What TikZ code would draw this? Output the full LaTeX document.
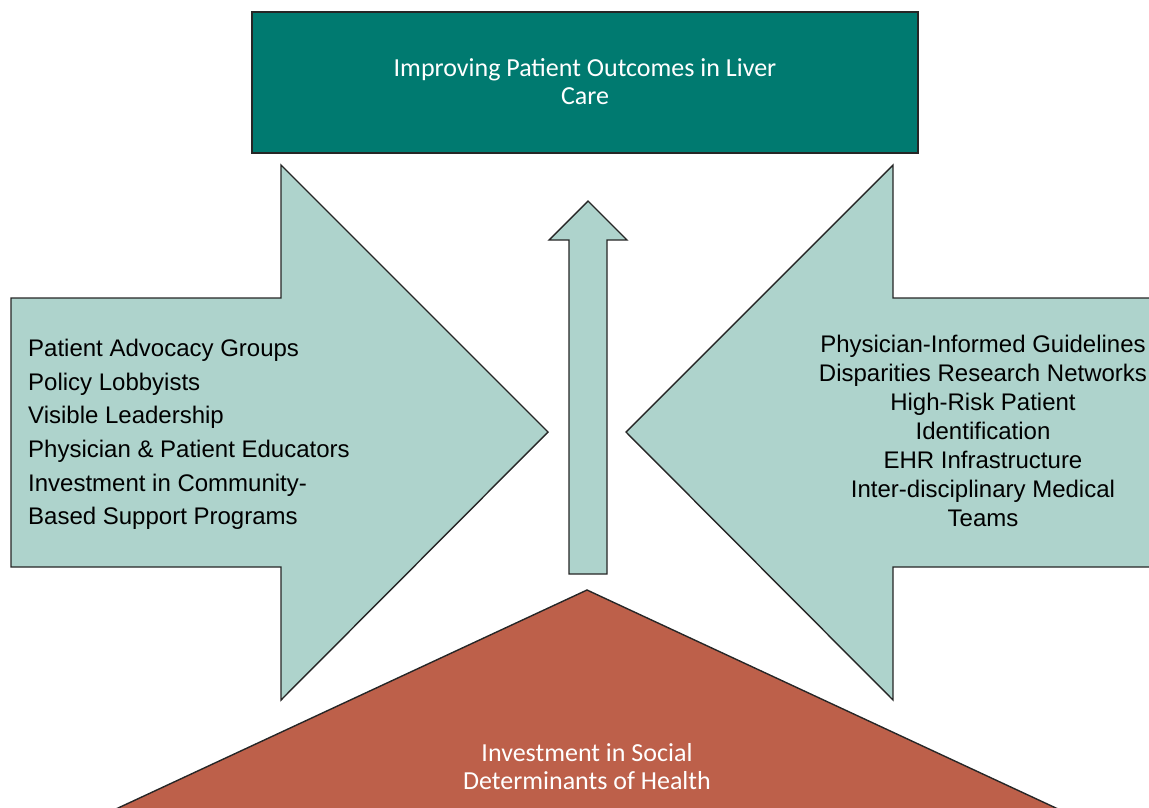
\documentclass[tikz,border=0pt]{standalone}
\usepackage{fontspec}
\setmainfont{Liberation Sans}
\newfontfamily\listfont{Liberation Sans}
\newfontfamily\boxfont{Carlito}
\usetikzlibrary{positioning}

\definecolor{outcometeal}{HTML}{007A70}
\definecolor{pushmint}{HTML}{AED3CC}
\definecolor{socialrust}{HTML}{BD604A}
\definecolor{edgegray}{HTML}{262626}

\tikzset{
    outline/.style={draw=edgegray, line width=1.4pt, line join=miter},
    sidetext/.style={text=black, inner sep=0pt, font=\listfont\fontsize{24}{33.6}\selectfont},
    whitetext/.style={text=white, inner sep=0pt, align=center, font=\boxfont\fontsize{26}{28}\selectfont}
}

\begin{document}
\begin{tikzpicture}[x=1pt, y=-1pt]

\useasboundingbox (0,0) rectangle (1149,807);
\clip (0,0) rectangle (1149,807);

% Goal box on top
\draw[outline, fill=outcometeal] (252,12) rectangle (918,153);
\node[whitetext] (goal) at (585,82) {Improving Patient Outcomes in Liver\\Care};

% Left block arrow ------------------------------
\draw[outline, fill=pushmint] (11,298) -- (281,298) -- (281,165) -- (548,432)
    -- (281,700) -- (281,567) -- (11,567) -- cycle;
\node[sidetext, anchor=north west, align=left] (leftlist) at (28,339)
    {Patient Advocacy Groups\\Policy Lobbyists\\Visible Leadership\\Physician \& Patient Educators\\Investment in Community-\\Based Support Programs};

% Right block arrow (runs off the right edge) ---
\draw[outline, fill=pushmint] (1170,298) -- (893,298) -- (893,165) -- (626,432)
    -- (893,700) -- (893,567) -- (1170,567);
\node[sidetext, anchor=north, align=center, font=\listfont\fontsize{24}{29}\selectfont] (rightlist) at (983,335)
    {Physician-Informed Guidelines\\Disparities Research Networks\\High-Risk Patient\\Identification\\EHR Infrastructure\\Inter-disciplinary Medical\\Teams};

% Middle up arrow -------------------------------
\draw[outline, fill=pushmint] (569,574) -- (569,240) -- (549,240) -- (588,201)
    -- (627,240) -- (607,240) -- (607,574) -- cycle;

% Base triangle ---------------------------------
\draw[outline, fill=socialrust] (587,590) -- (1114,835) -- (60,835) -- cycle;
\node[whitetext] (base) at (587,767) {Investment in Social\\Determinants of Health};

\end{tikzpicture}
\end{document}
